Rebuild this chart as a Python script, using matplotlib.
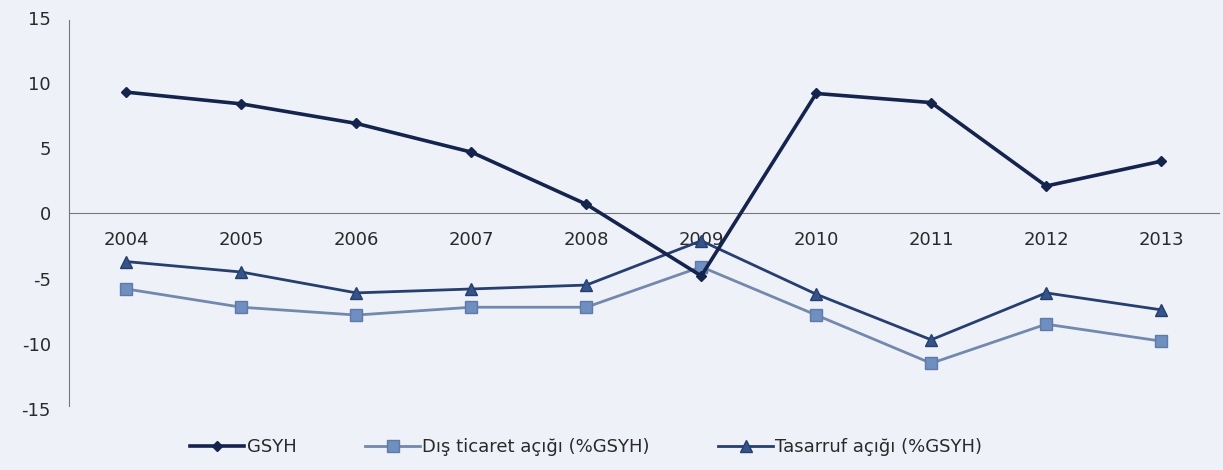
import matplotlib.pyplot as plt

# Veriler
yillar = ["2004", "2005", "2006", "2007", "2008", "2009", "2010", "2011", "2012", "2013"]
gsyh = [9.3, 8.4, 6.9, 4.7, 0.7, -4.8, 9.2, 8.5, 2.1, 4.0]
dis_ticaret = [-5.8, -7.2, -7.8, -7.2, -7.2, -4.1, -7.8, -11.5, -8.5, -9.8]
tasarruf = [-3.7, -4.5, -6.1, -5.8, -5.5, -2.1, -6.2, -9.7, -6.1, -7.4]

plt.rcParams['font.family'] = ['DejaVu Sans']
plt.rcParams['axes.unicode_minus'] = False
arka = "#eff1f9"

fig = plt.figure(figsize=(12.23, 4.70), dpi=100, facecolor=arka)
ax = fig.add_axes([0.0564, 0.130, 0.94, 0.832], facecolor=arka)

x = list(range(len(yillar)))
ax.plot(x, gsyh, color="#15244d", lw=2.6, marker="D", ms=5.5, label="GSYH", zorder=3)
ax.plot(x, dis_ticaret, color="#7289ad", lw=2.0, marker="s", ms=9,
        mfc="#6f8fc0", mec="#5f7aa5", label="Dış ticaret açığı (%GSYH)", zorder=2)
ax.plot(x, tasarruf, color="#263f6e", lw=2.0, marker="^", ms=8,
        mfc="#34548a", mec="#263f6e", label="Tasarruf açığı (%GSYH)", zorder=2)

ax.set_xlim(-0.5, 9.5)
ax.set_ylim(-15, 15)
ax.set_yticks([-15, -10, -5, 0, 5, 10, 15])
ax.set_xticks(x)
ax.set_xticklabels(yillar)

ax.spines['top'].set_visible(False)
ax.spines['right'].set_visible(False)
ax.spines['bottom'].set_position(('data', 0))
ax.spines['bottom'].set_color("#777777")
ax.spines['left'].set_color("#777777")
ax.spines['left'].set_bounds(-14.8, 14.8)
ax.tick_params(axis='both', length=0, labelsize=13, colors="#2a2a2a")
ax.tick_params(axis='x', pad=13)
ax.tick_params(axis='y', pad=13)

ax.legend(loc="upper center", bbox_to_anchor=(0.45, -0.033), ncol=3, frameon=False,
          fontsize=13, handlelength=3.0, handletextpad=0.15, columnspacing=3.8,
          labelcolor="#2a2a2a")

plt.savefig("out.png", facecolor=arka)
plt.close()
